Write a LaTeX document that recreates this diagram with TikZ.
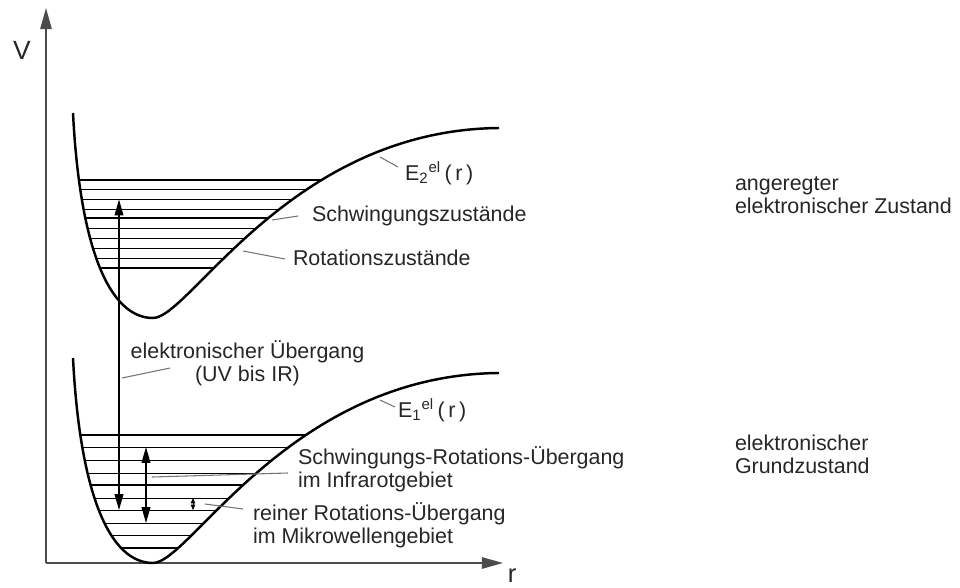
\documentclass[tikz,border=0pt]{standalone}
\usepackage{fontspec}
\setmainfont{Liberation Sans}
\usetikzlibrary{arrows.meta}
\colorlet{textgray}{black!85}
\colorlet{leadergray}{black!55}
\colorlet{axisgray}{black!70}
\newcommand\wellcurve{(73,113) .. controls (80,250) and (110,318) .. (153,318) .. controls (190,318) and (290,130) .. (499,128)}

\begin{document}
\begin{tikzpicture}[x=.02cm,y=-.02cm,
    every node/.style={font=\fontsize{12.2}{12.6}\selectfont,text=textgray,inner sep=0pt,outer sep=0pt},
    well/.style={line width=1.4pt},
    lvl/.style={line width=.55pt},
    lvlthick/.style={line width=1.2pt},
    leader/.style={leadergray,line width=.6pt},
    trans/.style={line width=.6pt,{Triangle[length=9pt,width=5pt]}-{Triangle[length=9pt,width=5pt]}},
    axis/.style={axisgray,line width=.8pt,-{Triangle[length=12pt,width=6.5pt]}}]
  \useasboundingbox (0,0) rectangle (960,588);
  \coordinate (o) at (46,563);
  \coordinate (vtip) at (46,8);
  \coordinate (rtip) at (503,563);
  \draw[axis] (o) -- (vtip);
  \draw[axis] (o) -- (rtip);
  \node[font=\fontsize{15}{16}\selectfont,anchor=base] (vlab) at (22,60) {V};
  \node[font=\fontsize{14.5}{16}\selectfont,anchor=base] (rlab) at (512,582) {r};

  \begin{scope}
    \clip \wellcurve -- (499,60) -- (73,60) -- cycle;
    \foreach \y in {189.8,199.5,209.3,228,238,248,258}
      \draw[lvl] (60,\y) -- (500,\y);
    \foreach \y in {180,218,268}
      \draw[lvlthick] (60,\y) -- (500,\y);
  \end{scope}
  \draw[well] \wellcurve;

  \begin{scope}
    \clip[shift={(0,245)}] \wellcurve -- (499,60) -- (73,60) -- cycle;
    \foreach \y in {447,460,473,498,510,523,535}
      \draw[lvl] (60,\y) -- (500,\y);
    \foreach \y in {435,485,548}
      \draw[lvlthick] (60,\y) -- (500,\y);
  \end{scope}
  \draw[well,shift={(0,245)}] \wellcurve;

  \coordinate (elo) at (119,510);
  \coordinate (eup) at (119,199.5);
  \draw[trans] (elo) -- (eup);
  \coordinate (srlo) at (146,523);
  \coordinate (srup) at (146,447);
  \draw[trans] (srlo) -- (srup);
  \coordinate (rotlo) at (193,510);
  \coordinate (rotup) at (193,498);
  \draw[line width=.4pt,{Triangle[length=3pt,width=2.5pt]}-{Triangle[length=3pt,width=2.5pt]}] (rotlo) -- (rotup);

  \node[anchor=base west] (etwo) at (405,180) {E\textsubscript{2}\textsuperscript{el}\,(\,r\,)};
  \node[anchor=base west] (schw) at (312,221) {Schwingungszustände};
  \node[anchor=base west] (rot) at (293,265.5) {Rotationszustände};
  \node[anchor=base,align=center] (eueb) at (247.5,381) {elektronischer Übergang\\(UV bis IR)};
  \node[anchor=base west] (eone) at (398,417) {E\textsubscript{1}\textsuperscript{el}\,(\,r\,)};
  \node[anchor=base west,align=left] (srueb) at (298,487) {Schwingungs-Rotations-Übergang\\im Infrarotgebiet};
  \node[anchor=base west,align=left] (rueb) at (253,543) {reiner Rotations-Übergang\\im Mikrowellengebiet};
  \node[anchor=base west,align=left] (angeregt) at (735,213) {angeregter\\elektronischer Zustand};
  \node[anchor=base west,align=left] (grund) at (735,473) {elektronischer\\Grundzustand};

  \coordinate (etwoc) at (380,157);
  \coordinate (schwc) at (272,220);
  \coordinate (rotc) at (243,251);
  \coordinate (euebc) at (122,378);
  \coordinate (eonec) at (380,400);
  \coordinate (src) at (152,477);
  \coordinate (rc) at (205,504);
  \draw[leader] (etwoc) -- ([shift={(-7,-13)}]etwo.base west);
  \draw[leader] (schwc) -- ([shift={(-14,-5)}]schw.base west);
  \draw[leader] (rotc) -- ([shift={(-8,-6.5)}]rot.base west);
  \draw[leader] (eonec) -- ([shift={(-3,-10)}]eone.base west);
  \draw[leader] (euebc) -- ([shift={(-77.5,-13)}]eueb.base);
  \draw[leader] (src) -- ([shift={(-10,-14)}]srueb.base west);
  \draw[leader] (rc) -- ([shift={(-10,-34)}]rueb.base west);
\end{tikzpicture}
\end{document}
